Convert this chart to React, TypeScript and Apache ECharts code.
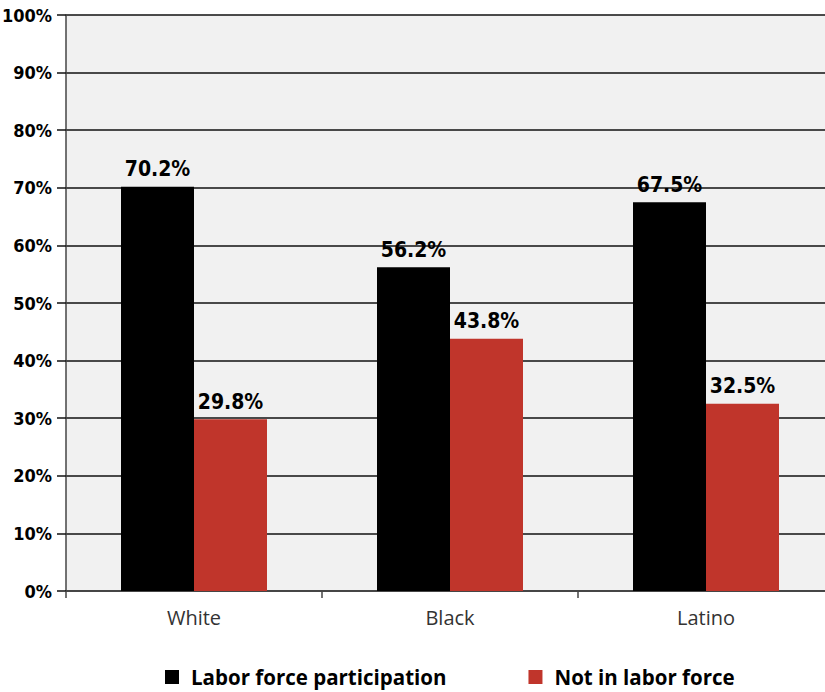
import React, { useEffect, useRef } from "react";
import * as echarts from "echarts";

const categories = ["White", "Black", "Latino"];
const participation = [70.2, 56.2, 67.5];
const notInLaborForce = [29.8, 43.8, 32.5];
const seriesNames = ["Labor force participation", "Not in labor force"];
const colors = ["#000000", "#c0352b"];

const narrow = "'DejaVu Sans Condensed', 'Liberation Sans Narrow', sans-serif";

export default function App() {
  const ref = useRef<HTMLDivElement>(null);

  useEffect(() => {
    if (!ref.current) return;
    const chart = echarts.init(ref.current, null, { renderer: "svg" });
    const barLabel = {
      show: true,
      position: "top",
      distance: 7,
      formatter: (p: any) => p.value.toFixed(1) + "%",
      fontFamily: narrow,
      fontWeight: "bold",
      fontSize: 21,
      color: "#000",
    };
    chart.setOption({
      animation: false,
      backgroundColor: "#ffffff",
      grid: {
        left: 66,
        right: -9,
        top: 15,
        bottom: 101,
        show: true,
        backgroundColor: "#f1f1f1",
        borderWidth: 0,
        outerBoundsMode: "none",
      },
      legend: {
        left: 165,
        top: 665,
        padding: 0,
        itemWidth: 14,
        itemHeight: 14,
        itemGap: 82,
        icon: "rect",
        textStyle: {
          fontFamily: "'Open Sans', sans-serif",
          fontWeight: "bold",
          fontSize: 20.5,
          lineHeight: 24,
          color: "#000",
          padding: [0, 0, 0, 7],
        },
        data: seriesNames,
      },
      xAxis: {
        type: "category",
        data: categories,
        axisLine: { show: true, lineStyle: { color: "#444", width: 1.5 } },
        axisTick: { show: true, length: 7, lineStyle: { color: "#444", width: 1.5 } },
        axisLabel: {
          fontFamily: "'Open Sans', sans-serif",
          fontSize: 20,
          color: "#333",
          margin: 16,
        },
      },
      yAxis: {
        type: "value",
        min: 0,
        max: 100,
        interval: 10,
        axisLine: { show: true, lineStyle: { color: "#444", width: 1.5 } },
        axisTick: { show: true, length: 9, lineStyle: { color: "#111", width: 1.5 } },
        splitLine: { show: true, lineStyle: { color: "#111", width: 1.5 } },
        axisLabel: {
          formatter: "{value}%",
          fontFamily: narrow,
          fontWeight: "bold",
          fontSize: 18,
          color: "#000",
          margin: 14,
        },
      },
      series: [
        {
          name: seriesNames[0],
          type: "bar",
          data: participation,
          barWidth: 73,
          barGap: "0%",
          itemStyle: { color: colors[0] },
          label: barLabel,
        },
        {
          name: seriesNames[1],
          type: "bar",
          data: notInLaborForce,
          barWidth: 73,
          barGap: "0%",
          itemStyle: { color: colors[1] },
          label: barLabel,
        },
      ],
    });
    return () => chart.dispose();
  }, []);

  return <div ref={ref} style={{ width: 825, height: 692, position: "absolute", left: 0, top: 0 }} />;
}
